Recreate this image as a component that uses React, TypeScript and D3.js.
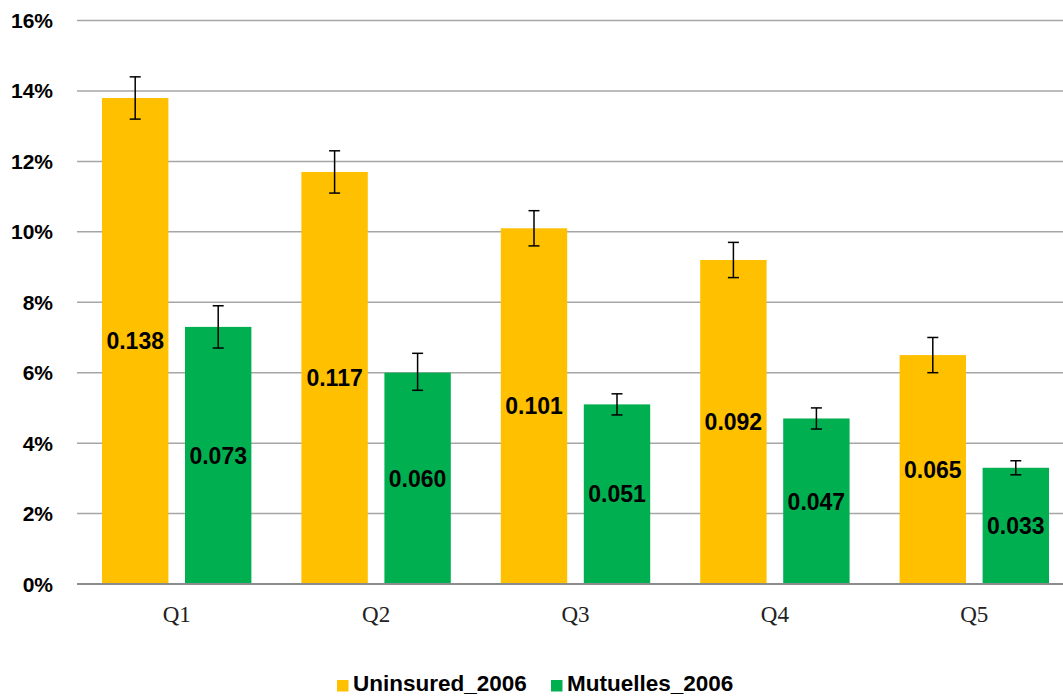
import React from "react";
import * as d3 from "d3";

const categories = ["Q1", "Q2", "Q3", "Q4", "Q5"];
const seriesNames = ["Uninsured_2006", "Mutuelles_2006"];
const uninsured = [0.138, 0.117, 0.101, 0.092, 0.065];
const mutuelles = [0.073, 0.06, 0.051, 0.047, 0.033];
const uninsuredLow = [0.132, 0.111, 0.096, 0.087, 0.06];
const uninsuredHigh = [0.144, 0.123, 0.106, 0.097, 0.07];
const mutuellesLow = [0.067, 0.055, 0.048, 0.044, 0.031];
const mutuellesHigh = [0.079, 0.0655, 0.054, 0.05, 0.035];
const yTicks = [0, 0.02, 0.04, 0.06, 0.08, 0.1, 0.12, 0.14, 0.16];
const colors = ["#FFC000", "#00B050"];

const W = 1063;
const H = 697;
const left = 77;
const right = 1074;
const top = 20.5;
const bottom = 584;

export default function App() {
  const x = d3.scaleBand<string>().domain(categories).range([left, right]).paddingInner(0).paddingOuter(0);
  const bw = x.bandwidth();
  const x1 = d3
    .scaleBand<string>()
    .domain(seriesNames)
    .range([25, bw - 25])
    .paddingInner(0.2);
  const y = d3.scaleLinear().domain([0, 0.16]).range([bottom, top]);
  const series = [
    { name: seriesNames[0], values: uninsured, lo: uninsuredLow, hi: uninsuredHigh, color: colors[0] },
    { name: seriesNames[1], values: mutuelles, lo: mutuellesLow, hi: mutuellesHigh, color: colors[1] },
  ];
  const fmtPct = d3.format(".0%");
  const fmtVal = d3.format(".3f");
  const font = "Liberation Sans, Arial, sans-serif";

  return (
    <svg width={W} height={H} style={{ position: "absolute", left: 0, top: 0, background: "#fff" }}>
      {yTicks.map((t) => (
        <g key={t}>
          <line x1={left} x2={W} y1={y(t)} y2={y(t)} stroke={t === 0 ? "#8c8c8c" : "#a6a6a6"} strokeWidth={t === 0 ? 2 : 1.5} />
          <text x={53} y={y(t)} dy="0.36em" textAnchor="end" fontFamily={font} fontWeight="bold" fontSize={21} fill="#000">
            {fmtPct(t)}
          </text>
        </g>
      ))}
      {series.map((s) =>
        categories.map((c, i) => {
          const bx = (x(c) as number) + (x1(s.name) as number);
          const w = x1.bandwidth();
          const cx = bx + w / 2;
          return (
            <g key={s.name + c}>
              <rect x={bx} y={y(s.values[i])} width={w} height={bottom - y(s.values[i])} fill={s.color} />
              <line x1={cx} x2={cx} y1={y(s.lo[i])} y2={y(s.hi[i])} stroke="#000" strokeWidth={1.5} />
              <line x1={cx - 5.5} x2={cx + 5.5} y1={y(s.lo[i])} y2={y(s.lo[i])} stroke="#000" strokeWidth={1.5} />
              <line x1={cx - 5.5} x2={cx + 5.5} y1={y(s.hi[i])} y2={y(s.hi[i])} stroke="#000" strokeWidth={1.5} />
              <text
                x={cx}
                y={(y(s.values[i]) + bottom) / 2}
                dy="0.36em"
                textAnchor="middle"
                fontFamily={font}
                fontWeight="bold"
                fontSize={23}
                fill="#000"
              >
                {fmtVal(s.values[i])}
              </text>
            </g>
          );
        })
      )}
      <line x1={left} x2={W} y1={bottom} y2={bottom} stroke="#8c8c8c" strokeWidth={2} />
      {categories.map((c) => (
        <text
          key={c}
          x={(x(c) as number) + bw / 2}
          y={622}
          textAnchor="middle"
          fontFamily="Liberation Serif, Times New Roman, serif"
          fontSize={23}
          fill="#222"
        >
          {c}
        </text>
      ))}
      <g>
        <rect x={337} y={680} width={11.5} height={11.5} fill={colors[0]} />
        <text x={353} y={691} fontFamily={font} fontWeight="bold" fontSize={22.5} fill="#000">
          {seriesNames[0]}
        </text>
        <rect x={551} y={680} width={11.5} height={11.5} fill={colors[1]} />
        <text x={567} y={691} fontFamily={font} fontWeight="bold" fontSize={22.5} fill="#000">
          {seriesNames[1]}
        </text>
      </g>
    </svg>
  );
}
